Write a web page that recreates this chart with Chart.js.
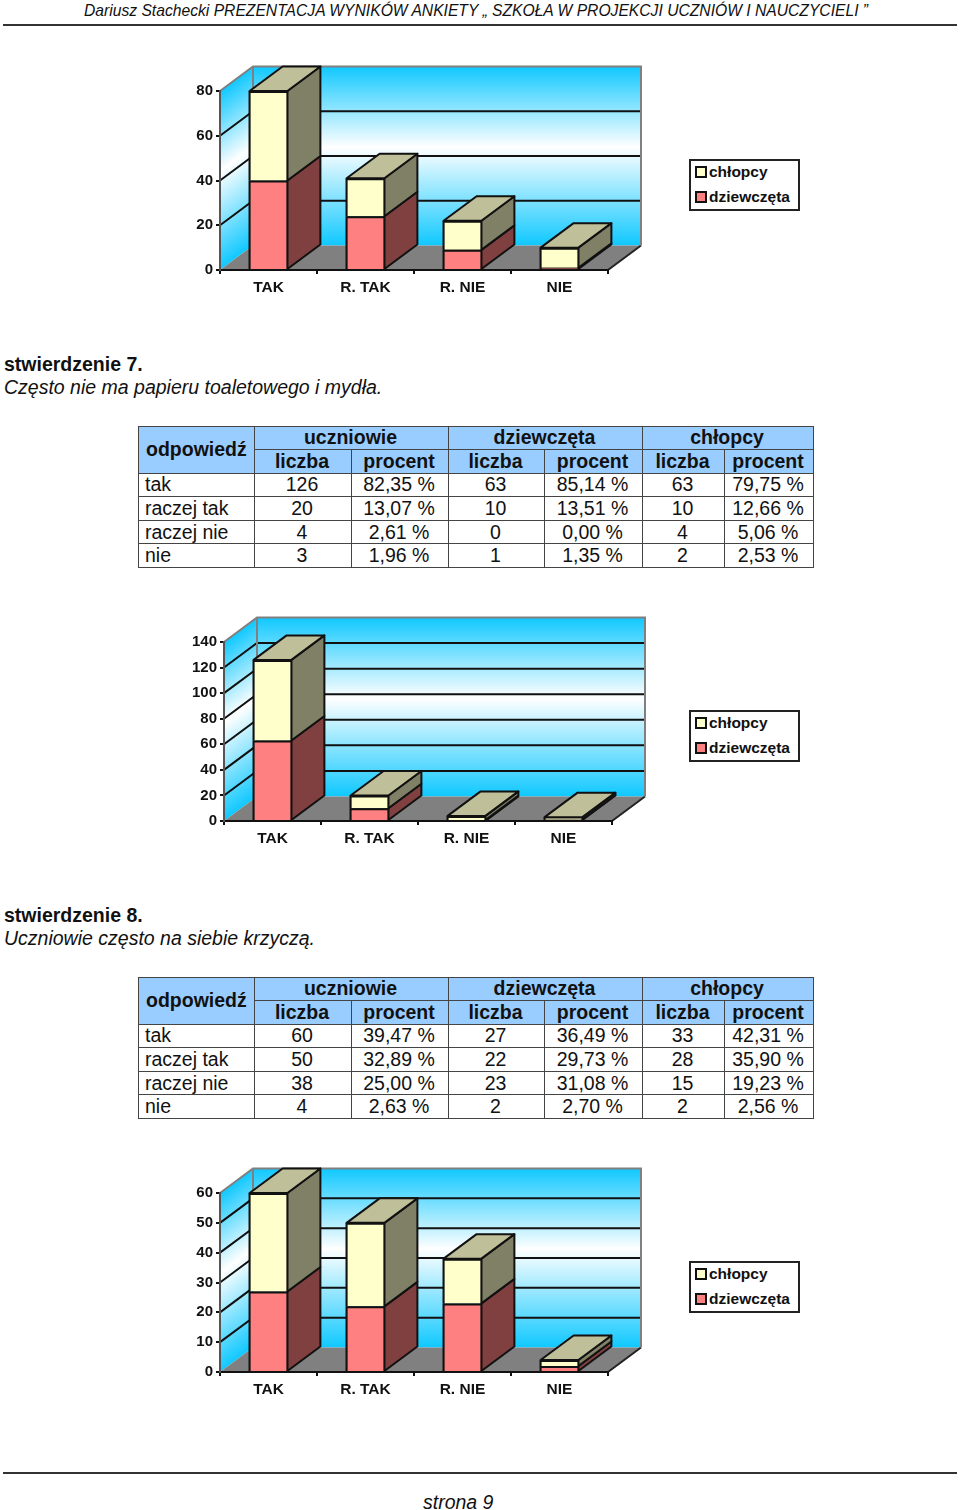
<!DOCTYPE html>
<html>
<head>
<meta charset="utf-8">
<script src="https://cdn.jsdelivr.net/npm/chart.js@4"></script>
<style>
  html, body { margin: 0; padding: 0; background: #fff; }
  body { position: relative; width: 960px; height: 1510px; overflow: hidden; font-family: "Liberation Sans", Arial, sans-serif; color: #111; }
  .abs { position: absolute; white-space: nowrap; }
  .rule { position: absolute; left: 3px; width: 954px; height: 2px; background: #333; }
  .txt { font-size: 19.5px; line-height: 24px; left: 4px; }
  canvas { position: absolute; left: 0; }
  table { position: absolute; left: 138px; width: 675px; border-collapse: collapse; table-layout: fixed; font-size: 19.5px; }
  td, th { border: 1px solid #444; padding: 0 2px 1px 0; height: 21.6px; line-height: 20px; text-align: center; overflow: hidden; white-space: nowrap; }
  th { background: #99ccff; font-weight: bold; }
  td.lbl { text-align: left; padding-left: 6px; padding-right: 0; }
  th.lbl { text-align: left; padding-left: 7px; padding-right: 0; padding-bottom: 2px; }
  .legend { position: absolute; left: 689px; width: 107px; height: 48px; border: 2px solid #222; background: #fff; }
  .legend div { position: absolute; left: 2px; font-size: 15.5px; font-weight: bold; line-height: 20px; white-space: nowrap; padding-left: 16px; }
  .legend i { position: absolute; left: 2px; top: 4px; width: 8px; height: 8px; border: 2px solid #111; }
</style>
</head>
<body>
<div class="abs" style="left:84px;top:1px;font:italic 15.67px/20px 'Liberation Sans';">Dariusz Stachecki PREZENTACJA WYNIKÓW ANKIETY „ SZKOŁA W PROJEKCJI UCZNIÓW I NAUCZYCIELI ”</div>
<div class="rule" style="top:24px"></div>

<canvas id="chart6"></canvas>
<div class="abs txt" style="top:352px"><b>stwierdzenie 7.</b></div>
<div class="abs txt" style="top:375px"><i>Często nie ma papieru toaletowego i mydła.</i></div>
<div id="table7"></div>
<canvas id="chart7"></canvas>
<div class="abs txt" style="top:903px"><b>stwierdzenie 8.</b></div>
<div class="abs txt" style="top:926px"><i>Uczniowie często na siebie krzyczą.</i></div>
<div id="table8"></div>
<canvas id="chart8"></canvas>

<div class="rule" style="top:1472px"></div>
<div class="abs" style="left:423px;top:1491px;font:italic 19.5px/22px 'Liberation Sans';">strona 9</div>

<script>
// Chart values
const categories = ['TAK', 'R. TAK', 'R. NIE', 'NIE'];
const seriesNames = ['dziewczęta', 'chłopcy'];
const girls6 = [40, 24, 9, 1];
const boys6 = [40, 17, 13, 9];
const girls7 = [63, 10, 0, 1];
const boys7 = [63, 10, 4, 2];
const girls8 = [27, 22, 23, 2];
const boys8 = [33, 28, 15, 2];

// Table values
const answers = ['tak', 'raczej tak', 'raczej nie', 'nie'];
const rows7 = [
  ['126', '82,35 %', '63', '85,14 %', '63', '79,75 %'],
  ['20', '13,07 %', '10', '13,51 %', '10', '12,66 %'],
  ['4', '2,61 %', '0', '0,00 %', '4', '5,06 %'],
  ['3', '1,96 %', '1', '1,35 %', '2', '2,53 %']
];
const rows8 = [
  ['60', '39,47 %', '27', '36,49 %', '33', '42,31 %'],
  ['50', '32,89 %', '22', '29,73 %', '28', '35,90 %'],
  ['38', '25,00 %', '23', '31,08 %', '15', '19,23 %'],
  ['4', '2,63 %', '2', '2,70 %', '2', '2,56 %']
];

const pink = '#ff8080', pinkSide = '#804040';
const cream = '#ffffcc', creamSide = '#808066', creamTop = '#bfbf99';
const depthX = 33, depthY = 24.5;

function buildTable(holderId, top, rows) {
  const colW = [116, 97, 97, 96, 98, 82, 89];
  let html = '<table style="top:' + top + 'px"><colgroup>' + colW.map(w => '<col style="width:' + w + 'px">').join('') + '</colgroup>';
  html += '<tr><th rowspan="2" class="lbl">odpowiedź</th><th colspan="2">uczniowie</th><th colspan="2">dziewczęta</th><th colspan="2">chłopcy</th></tr>';
  html += '<tr>' + ['liczba', 'procent', 'liczba', 'procent', 'liczba', 'procent'].map(t => '<th>' + t + '</th>').join('') + '</tr>';
  rows.forEach((r, i) => {
    html += '<tr><td class="lbl">' + answers[i] + '</td>' + r.map(v => '<td>' + v + '</td>').join('') + '</tr>';
  });
  document.getElementById(holderId).innerHTML = html + '</table>';
}
buildTable('table7', 425.5, rows7);
buildTable('table8', 976.5, rows8);

function buildLegend(top) {
  const box = document.createElement('div');
  box.className = 'legend';
  box.style.top = top + 'px';
  [[seriesNames[1], cream, 1], [seriesNames[0], pink, 26]].forEach(([name, color, y]) => {
    const row = document.createElement('div');
    row.style.top = y + 'px';
    row.innerHTML = '<i style="background:' + color + '"></i>' + name;
    box.appendChild(row);
  });
  document.body.appendChild(box);
}

function poly(ctx, pts, fill, stroke, lw) {
  ctx.beginPath();
  pts.forEach((p, i) => i ? ctx.lineTo(p[0], p[1]) : ctx.moveTo(p[0], p[1]));
  ctx.closePath();
  if (fill) { ctx.fillStyle = fill; ctx.fill(); }
  if (stroke) { ctx.strokeStyle = stroke; ctx.lineWidth = lw; ctx.lineJoin = 'round'; ctx.stroke(); }
}

// Walls, floor and depth of the bars, all taken from the chart's own scales
const box3d = {
  id: 'box3d',
  beforeDraw(chart) {
    const { ctx, chartArea: a, scales: { y } } = chart;
    const grad = ctx.createLinearGradient(0, a.top, 0, a.bottom);
    grad.addColorStop(0, '#10c8ff');
    grad.addColorStop(0.45, '#ffffff');
    grad.addColorStop(1, '#10c8ff');
    ctx.save();
    // back wall
    ctx.save();
    ctx.translate(depthX, -depthY);
    ctx.fillStyle = grad;
    ctx.fillRect(a.left, a.top, a.right - a.left, a.bottom - a.top);
    ctx.restore();
    // left wall, same gradient skewed along the depth
    ctx.save();
    ctx.transform(1, -depthY / depthX, 0, 1, a.left, 0);
    ctx.fillStyle = grad;
    ctx.fillRect(0, a.top, depthX, a.bottom - a.top);
    ctx.restore();
    // floor
    poly(ctx, [[a.left, a.bottom], [a.right, a.bottom], [a.right + depthX, a.bottom - depthY], [a.left + depthX, a.bottom - depthY]], '#808080');
    ctx.beginPath();
    ctx.moveTo(a.right, a.bottom);
    ctx.lineTo(a.right + depthX, a.bottom - depthY);
    ctx.strokeStyle = '#222';
    ctx.lineWidth = 2;
    ctx.stroke();
    // grid lines
    y.ticks.forEach(t => {
      if (t.value === y.min || t.value === y.max) return;
      const py = y.getPixelForValue(t.value);
      ctx.beginPath();
      ctx.moveTo(a.left, py);
      ctx.lineTo(a.left + depthX, py - depthY);
      ctx.lineTo(a.right + depthX, py - depthY);
      ctx.strokeStyle = '#111';
      ctx.lineWidth = 2;
      ctx.stroke();
    });
    // grey wall outline
    ctx.beginPath();
    ctx.moveTo(a.left, a.top);
    ctx.lineTo(a.left + depthX, a.top - depthY);
    ctx.lineTo(a.right + depthX, a.top - depthY);
    ctx.lineTo(a.right + depthX, a.bottom - depthY);
    ctx.moveTo(a.left + depthX, a.top - depthY);
    ctx.lineTo(a.left + depthX, a.bottom - depthY);
    ctx.strokeStyle = '#808080';
    ctx.lineWidth = 2;
    ctx.stroke();
    ctx.restore();
  },
  beforeDatasetsDraw(chart) {
    const { ctx } = chart;
    const sides = [pinkSide, creamSide];
    ctx.save();
    chart.data.labels.forEach((_, i) => {
      [0, 1].forEach(d => {
        const bar = chart.getDatasetMeta(d).data[i].getProps(['x', 'y', 'base', 'width'], true);
        const r = bar.x + bar.width / 2 - 1, l = bar.x - bar.width / 2 + 1;
        // black backing so no seam shows between stacked segments
        ctx.fillStyle = '#111';
        ctx.fillRect(bar.x - bar.width / 2, bar.y, bar.width, bar.base - bar.y);
        poly(ctx, [[r, bar.base], [r + depthX, bar.base - depthY], [r + depthX, bar.y - depthY], [r, bar.y]], sides[d], '#111', 2);
        if (d === 1) {
          poly(ctx, [[l, bar.y], [l + depthX, bar.y - depthY], [r + depthX, bar.y - depthY], [r, bar.y]], creamTop, '#111', 2);
        }
      });
    });
    ctx.restore();
  }
};

function drawChart(id, girls, boys, maxY, step, left, right, bottom, topPx, legendTop) {
  const canvas = document.getElementById(id);
  const canvasTop = topPx - 40, canvasH = bottom - canvasTop + 35, canvasW = 680;
  canvas.style.top = canvasTop + 'px';
  canvas.width = canvasW;
  canvas.height = canvasH;
  canvas.style.width = canvasW + 'px';
  canvas.style.height = canvasH + 'px';
  const barStyle = {
    borderColor: '#111',
    borderWidth: { top: 2, left: 2, right: 2, bottom: 0 },
    borderSkipped: false,
    clip: false,
    categoryPercentage: 0.41,
    barPercentage: 1
  };
  new Chart(canvas.getContext('2d'), {
    type: 'bar',
    data: {
      labels: categories,
      datasets: [
        { label: seriesNames[0], data: girls, backgroundColor: pink, ...barStyle },
        { label: seriesNames[1], data: boys, backgroundColor: cream, ...barStyle }
      ]
    },
    options: {
      responsive: false,
      animation: false,
      layout: { padding: { top: 40, right: canvasW - right, bottom: 0, left: 0 } },
      plugins: { legend: { display: false }, tooltip: { enabled: false } },
      scales: {
        x: {
          stacked: true,
          afterFit(s) { s.height = 35; },
          grid: { drawOnChartArea: false, tickLength: 4, color: '#111', lineWidth: 2 },
          border: { color: '#111', width: 2 },
          ticks: { color: '#111', padding: 4, maxRotation: 0, font: { family: 'Liberation Sans', size: 15.5, weight: 'bold' } }
        },
        y: {
          stacked: true,
          min: 0,
          max: maxY,
          afterFit(s) { s.width = left; },
          grid: { drawOnChartArea: false, tickLength: 4, color: '#111', lineWidth: 2 },
          border: { color: '#555', width: 2 },
          ticks: { stepSize: step, color: '#111', padding: 3, font: { family: 'Liberation Sans', size: 15, weight: 'bold' } }
        }
      }
    },
    plugins: [box3d]
  });
  buildLegend(legendTop);
}

drawChart('chart6', girls6, boys6, 80, 20, 220, 608, 270, 91, 159);
drawChart('chart7', girls7, boys7, 140, 20, 224, 612, 821, 642, 710);
drawChart('chart8', girls8, boys8, 60, 10, 220, 608, 1372, 1193, 1261);
</script>
</body>
</html>
